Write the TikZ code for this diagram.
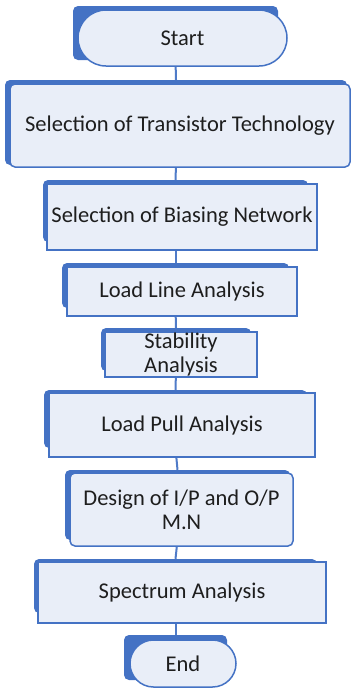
\documentclass[tikz,border=0pt]{standalone}
\usepackage{fontspec}
\setmainfont{Carlito}
\usetikzlibrary{shapes.misc}
\definecolor{obl}{HTML}{4472C4}
\definecolor{lfill}{HTML}{E9EEF8}
\definecolor{lnk}{HTML}{4F7BC8}
\definecolor{txt}{HTML}{1E1E1E}
\pgfdeclarelayer{background}
\pgfsetlayers{background,main}
\tikzset{
  backbox/.style={fill=obl, draw=none, rounded corners=5pt, inner sep=0pt, minimum width=#1},
  frontbox/.style={fill=lfill, draw=obl, line width=1.5pt, inner sep=0pt, text=txt,
     align=center, font=\fontsize{22.5}{24}\selectfont},
  roundbox/.style={frontbox, rounded corners=5pt},
  sqbox/.style={frontbox, rounded corners=0pt},
  termbox/.style={frontbox, rounded rectangle},
  link/.style={draw=lnk, line width=2pt}
}
\begin{document}
\begin{tikzpicture}[x=1pt,y=-1pt]
\useasboundingbox (0,0) rectangle (352,689);
% back (shadow) shapes
\node[backbox=205pt, minimum height=54pt] (b1) at (175.5,33) {};
\node[backbox=342pt, minimum height=85pt] (b2) at (176,122.5) {};
\node[backbox=265pt, minimum height=62pt] (b3) at (175.5,211) {};
\node[backbox=227pt, minimum height=45pt] (b4) at (175.5,285.5) {};
\node[backbox=150pt, minimum height=43pt] (b5) at (176,349.5) {};
\node[backbox=263pt, minimum height=58pt] (b6) at (175.5,419) {};
\node[backbox=225pt, minimum height=70pt] (b7) at (177.5,505) {};
\node[backbox=283pt, minimum height=54pt] (b8) at (175.5,586) {};
\node[backbox=103pt, minimum height=45pt] (b9) at (175.5,657.5) {};
% front shapes
\node[termbox, minimum width=209pt, minimum height=56pt] (f1) at (182.5,38) {Start};
\node[roundbox, minimum width=340pt, minimum height=83pt] (f2) at (180,125.5) {Selection of Transistor Technology};
\node[sqbox, minimum width=270pt, minimum height=66pt] (f3) at (182,217) {Selection of Biasing Network};
\node[sqbox, minimum width=230pt, minimum height=49pt] (f4) at (182,291.5) {Load Line Analysis};
\node[sqbox, minimum width=152pt, minimum height=45pt] (f5) at (181,354.5) {Stability\\Analysis};
\node[sqbox, minimum width=266pt, minimum height=64pt] (f6) at (182,425) {Load Pull Analysis};
\node[roundbox, minimum width=223pt, minimum height=73pt] (f7) at (181.5,509.5) {Design of I/P and O/P\\M.N};
\node[sqbox, minimum width=288pt, minimum height=61pt] (f8) at (182,592.5) {Spectrum Analysis};
\node[termbox, minimum width=106pt, minimum height=47pt] (f9) at (183,663.5) {End};
% connectors
\begin{pgfonlayer}{background}
\draw[link] (b1.south) -- (b2.north);
\draw[link] (b2.south) -- (b3.north);
\draw[link] (b3.south) -- (b4.north);
\draw[link] (b4.south) -- (b5.north);
\draw[link] (b5.south) -- (b6.north);
\draw[link] (b6.south) -- (b7.north);
\draw[link] (b7.south) -- (b8.north);
\draw[link] (b8.south) -- (b9.north);
\end{pgfonlayer}
\end{tikzpicture}
\end{document}
